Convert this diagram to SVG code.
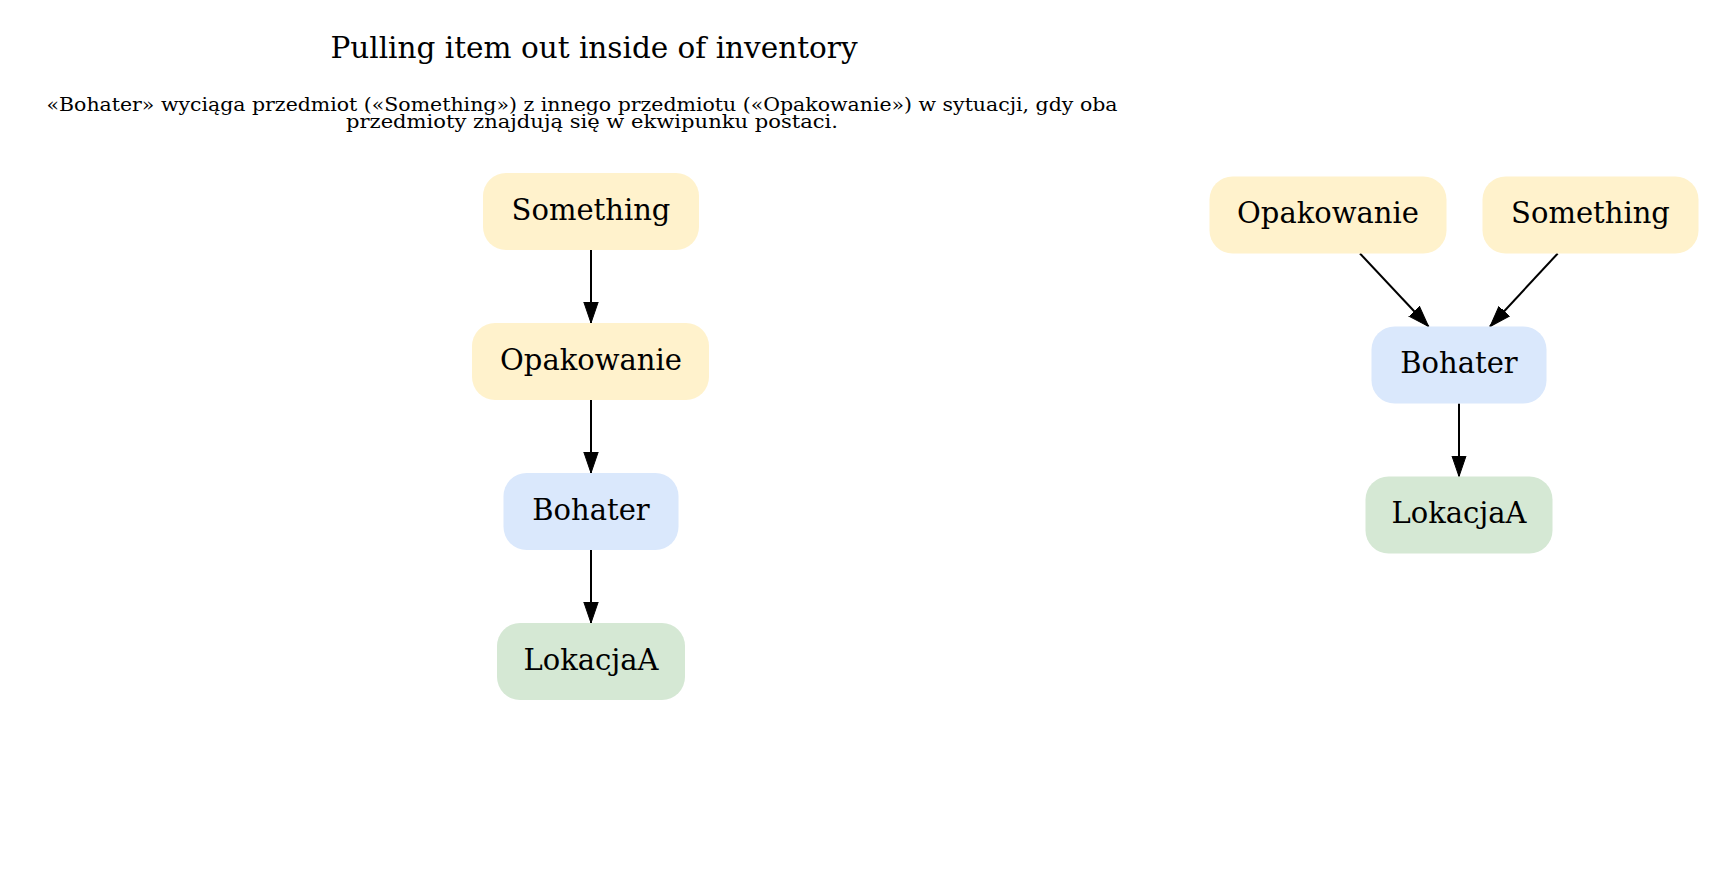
<svg xmlns="http://www.w3.org/2000/svg" width="1726" height="877" viewBox="0 0 1726 877">
<style>
  .lbl { font-family: "DejaVu Serif", "Liberation Serif", serif; font-size: 29px; fill: #000; text-anchor: middle; }
  .title { font-family: "DejaVu Serif", "Liberation Serif", serif; font-size: 29.5px; fill: #000; text-anchor: middle; }
  .sub { font-family: "DejaVu Serif", "Liberation Serif", serif; font-size: 18px; fill: #000; text-anchor: middle; }
  .yel { fill: #fff2cc; }
  .blu { fill: #dae8fc; }
  .grn { fill: #d5e8d4; }
  .edge { stroke: #000; stroke-width: 2; fill: none; marker-end: url(#arr); }
</style>
<defs>
  <marker id="arr" markerUnits="userSpaceOnUse" markerWidth="22" markerHeight="16" viewBox="0 -8 22 16" refX="21" refY="0" orient="auto">
    <path d="M0,-7.2 L21,0 L0,7.2 z" fill="#000" stroke="#000" stroke-width="1"/>
  </marker>
</defs>
<rect width="1726" height="877" fill="#fff"/>

<g id="title">
  <text class="title" x="594" y="58">Pulling item out inside of inventory</text>
  <text class="sub" x="582" y="111" textLength="1071" lengthAdjust="spacingAndGlyphs">«Bohater» wyciąga przedmiot («Something») z innego przedmiotu («Opakowanie») w sytuacji, gdy oba</text>
  <text class="sub" x="592" y="128" textLength="492" lengthAdjust="spacingAndGlyphs">przedmioty znajdują się w ekwipunku postaci.</text>
</g>

<g id="connectors">
  <line class="edge" x1="591" y1="250" x2="591" y2="323"/>
  <line class="edge" x1="591" y1="400" x2="591" y2="473"/>
  <line class="edge" x1="591" y1="550" x2="591" y2="623"/>
  <line class="edge" x1="1360" y1="253.5" x2="1428.5" y2="326.5"/>
  <line class="edge" x1="1557.7" y1="253.5" x2="1490" y2="326.5"/>
  <line class="edge" x1="1459" y1="403.5" x2="1459" y2="476.5"/>
</g>

<g id="l_something">
  <rect class="yel" x="483" y="173" width="216" height="77" rx="23" ry="23"/>
  <text class="lbl" x="591" y="219.5">Something</text>
</g>
<g id="l_opakowanie">
  <rect class="yel" x="472" y="323" width="237" height="77" rx="23" ry="23"/>
  <text class="lbl" x="591" y="369.5">Opakowanie</text>
</g>
<g id="l_bohater">
  <rect class="blu" x="503.5" y="473" width="175" height="77" rx="23" ry="23"/>
  <text class="lbl" x="591" y="519.5">Bohater</text>
</g>
<g id="l_lokacja">
  <rect class="grn" x="497" y="623" width="188" height="77" rx="23" ry="23"/>
  <text class="lbl" x="591" y="669.5">LokacjaA</text>
</g>

<g id="r_opakowanie">
  <rect class="yel" x="1209.5" y="176.5" width="237" height="77" rx="23" ry="23"/>
  <text class="lbl" x="1328" y="223">Opakowanie</text>
</g>
<g id="r_something">
  <rect class="yel" x="1482.5" y="176.5" width="216" height="77" rx="23" ry="23"/>
  <text class="lbl" x="1590.5" y="223">Something</text>
</g>
<g id="r_bohater">
  <rect class="blu" x="1371.5" y="326.5" width="175" height="77" rx="23" ry="23"/>
  <text class="lbl" x="1459" y="373">Bohater</text>
</g>
<g id="r_lokacja">
  <rect class="grn" x="1365.5" y="476.5" width="187" height="77" rx="23" ry="23"/>
  <text class="lbl" x="1459" y="523">LokacjaA</text>
</g>
</svg>
